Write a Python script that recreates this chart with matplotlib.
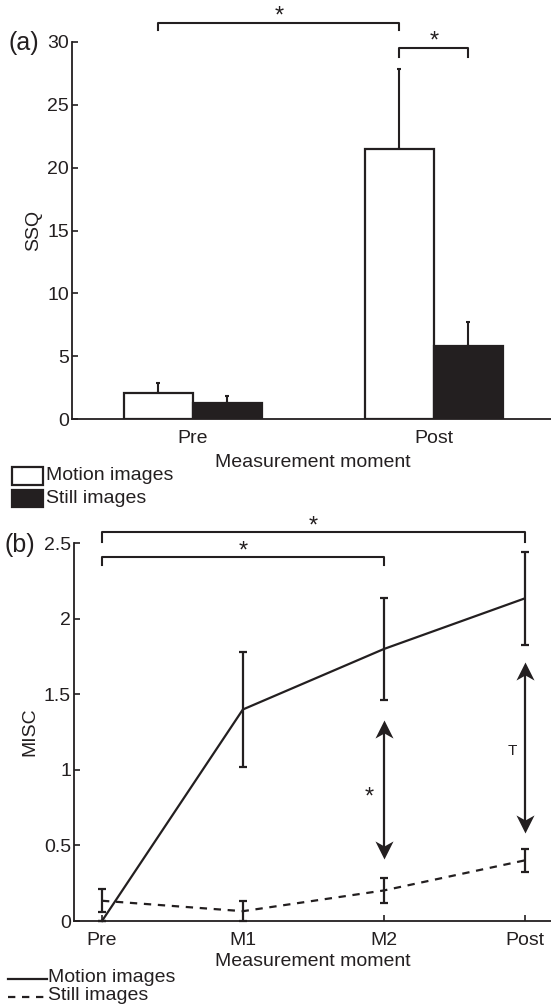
import matplotlib.pyplot as plt
import numpy as np

plt.rcParams['font.family'] = ['Liberation Sans', 'DejaVu Sans']
plt.rcParams['font.size'] = 14

INK = '#231f20'

# (a) SSQ, mean and upper error per moment
ssq_moments = ['Pre', 'Post']
ssq_motion = [2.05, 21.5]
ssq_motion_err = [0.8, 6.3]
ssq_still = [1.3, 5.8]
ssq_still_err = [0.55, 1.9]

# (b) MISC, mean and SE per moment
misc_moments = ['Pre', 'M1', 'M2', 'Post']
misc_motion = [0.0, 1.40, 1.80, 2.135]
misc_motion_err = [0.0, 0.38, 0.34, 0.305]
misc_still = [0.134, 0.065, 0.202, 0.401]
misc_still_err = [0.076, 0.065, 0.085, 0.077]

# significance brackets: x start, x end, bar level, tip level
sig_a = [(0.857, 1.857, 31.5, 30.9), (1.857, 2.143, 29.5, 28.8)]
sig_b = [(1, 4, 2.572, 2.51), (1, 3, 2.407, 2.356)]
# motion vs still arrows in (b): x, low tip, high tip
arrows_b = [(3, 0.41, 1.33), (4, 0.58, 1.716)]

W, H = 551, 1006
fig = plt.figure(figsize=(W / 100, H / 100), dpi=100)
DASH = (0, (3.3, 3.0))


def px_axes(left, right, top, bottom):
    return fig.add_axes([left / W, 1 - bottom / H, (right - left) / W, (bottom - top) / H])


def style(ax):
    for s in ['top', 'right']:
        ax.spines[s].set_visible(False)
    for s in ['left', 'bottom']:
        ax.spines[s].set_linewidth(1.3)
        ax.spines[s].set_color(INK)
    ax.tick_params(direction='in', length=4, width=1.2, color=INK, labelcolor=INK, labelsize=14)
    ax.tick_params(axis='y', pad=2)
    ax.tick_params(axis='x', pad=8)


# ---------- panel (a) ----------
ax = px_axes(72, 554.5, 41.7, 419.3)
style(ax)
x = np.arange(1, len(ssq_moments) + 1)
bw = 0.286
ax.bar(x - bw / 2, ssq_motion, width=bw, facecolor='white', edgecolor=INK, linewidth=1.6, zorder=3)
ax.bar(x + bw / 2, ssq_still, width=bw, facecolor=INK, edgecolor=INK, linewidth=1.6, zorder=3)
ax.errorbar(x - bw / 2, ssq_motion, yerr=[np.zeros(len(x)), ssq_motion_err], fmt='none',
            ecolor=INK, elinewidth=1.5, capsize=1.5, capthick=1.5, zorder=2)
ax.errorbar(x + bw / 2, ssq_still, yerr=[np.zeros(len(x)), ssq_still_err], fmt='none',
            ecolor=INK, elinewidth=1.5, capsize=1.5, capthick=1.5, zorder=2)
ax.set_xlim(0.5, 2.5)
ax.set_ylim(0, 30)
ax.set_xticks(x)
ax.set_xticklabels(ssq_moments)
ax.set_yticks([0, 5, 10, 15, 20, 25, 30])
ax.set_xlabel('Measurement moment', color=INK, labelpad=5)
ax.set_ylabel('SSQ', color=INK, labelpad=4)
for x0, x1, yb, yt in sig_a:
    ax.plot([x0, x0, x1, x1], [yt, yb, yb, yt], color=INK, lw=1.5, clip_on=False)
    ax.text((x0 + x1) / 2, yb, '*', ha='center', va='baseline', color=INK, fontsize=17)
fig.text(8 / W, 1 - 43 / H, '(a)', fontsize=18, color=INK, va='center', ha='left')

# legend (a)
fig.patches.append(plt.Rectangle((12 / W, 1 - 485 / H), 31 / W, 18 / H, transform=fig.transFigure,
                                 facecolor='white', edgecolor=INK, lw=1.6))
fig.patches.append(plt.Rectangle((12 / W, 1 - 507 / H), 31 / W, 17 / H, transform=fig.transFigure,
                                 facecolor=INK, edgecolor=INK, lw=1.6))
fig.text(46 / W, 1 - 476 / H, 'Motion images', fontsize=14, color=INK, va='center')
fig.text(46 / W, 1 - 499 / H, 'Still images', fontsize=14, color=INK, va='center')

# ---------- panel (b) ----------
bx = px_axes(73.8, 552.8, 543.3, 921)
style(bx)
xb = np.arange(1, len(misc_moments) + 1)
bx.errorbar(xb, misc_motion, yerr=misc_motion_err, color=INK, lw=1.6, elinewidth=1.6,
            capsize=3, capthick=1.6, clip_on=False)
eb = bx.errorbar(xb, misc_still, yerr=misc_still_err, color=INK, lw=1.6, elinewidth=1.6,
                 capsize=3, capthick=1.6, clip_on=False)
eb[0].set_linestyle(DASH)
bx.set_xlim(0.8, 4.2)
bx.set_ylim(0, 2.5)
bx.set_xticks(xb)
bx.set_xticklabels(misc_moments)
bx.set_yticks([0, 0.5, 1, 1.5, 2, 2.5])
bx.set_yticklabels(['0', '0.5', '1', '1.5', '2', '2.5'])
bx.set_xlabel('Measurement moment', color=INK, labelpad=3)
bx.set_ylabel('MISC', color=INK, labelpad=4)
for x0, x1, yb, yt in sig_b:
    bx.plot([x0, x0, x1, x1], [yt, yb, yb, yt], color=INK, lw=1.5, clip_on=False)
    bx.text((x0 + x1) / 2, yb, '*', ha='center', va='baseline', color=INK, fontsize=17)

head_up = [(0, 0), (-0.5, -1.0), (0, -0.72), (0.5, -1.0), (0, 0)]
head_down = [(px, -py) for px, py in head_up]
for xa, lo, hi in arrows_b:
    bx.plot([xa, xa], [lo + 0.05, hi - 0.05], color=INK, lw=1.6)
    bx.plot([xa], [hi], marker=head_up, markersize=26, color=INK, markeredgewidth=0)
    bx.plot([xa], [lo], marker=head_down, markersize=26, color=INK, markeredgewidth=0)
bx.text(2.90, 0.775, '*', ha='center', va='baseline', color=INK, fontsize=17)
bx.text(3.91, 1.10, 'T', ha='center', va='baseline', color=INK, fontsize=11)
fig.text(5 / W, 1 - 545 / H, '(b)', fontsize=18, color=INK, va='center', ha='left')

# legend (b)
fig.add_artist(plt.Line2D([8 / W, 47 / W], [1 - 979 / H, 1 - 979 / H], color=INK, lw=1.6))
fig.add_artist(plt.Line2D([8 / W, 47 / W], [1 - 997 / H, 1 - 997 / H], color=INK, lw=1.6,
                          linestyle=DASH))
fig.text(48 / W, 1 - 978 / H, 'Motion images', fontsize=14, color=INK, va='center')
fig.text(48 / W, 1 - 996 / H, 'Still images', fontsize=14, color=INK, va='center')

fig.savefig('out.png', dpi=100)
